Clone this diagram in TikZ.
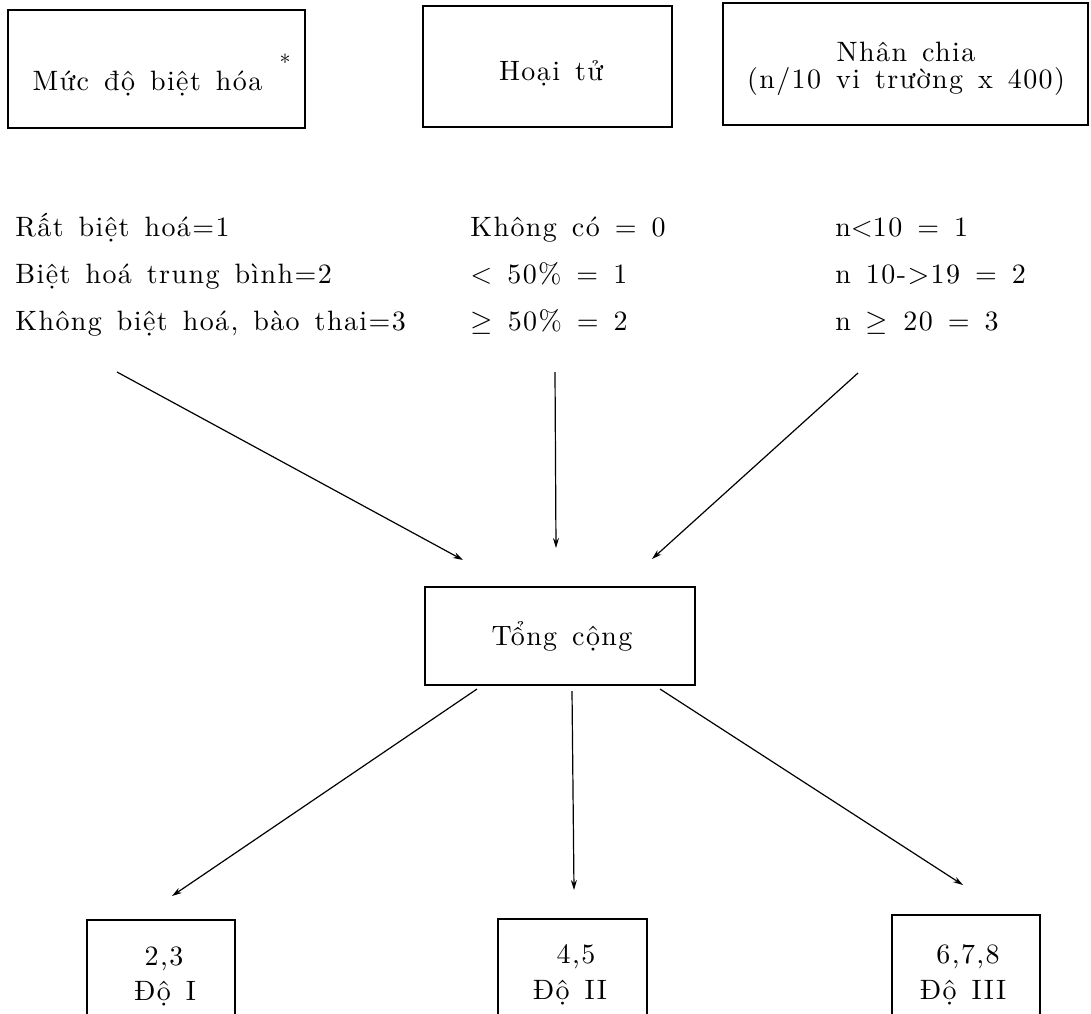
\documentclass[tikz,border=0pt]{standalone}
\usepackage{fontspec}
\setmainfont{lmroman10-regular.otf}[LetterSpace=5, WordSpace=1.4]
\usetikzlibrary{arrows.meta}
\begin{document}
\begin{tikzpicture}[x=0.5pt,y=-0.5pt,
  box/.style={draw, line width=0.9pt, inner sep=0pt},
  lbl/.style={anchor=base, inner sep=0pt},
  colt/.style={anchor=base west, inner sep=0pt},
  conn/.style={line width=0.6pt, -{Stealth[length=5pt,width=3pt]}},
  font=\fontsize{14}{17}\selectfont]
\path[use as bounding box, clip] (0,0) rectangle (1091,1013);
\fill[white] (0,0) rectangle (1091,1013);

% top boxes
\node[box, minimum width=148.5pt, minimum height=59pt] (b1) at (156.5,69) {};
\node[box, minimum width=124.5pt, minimum height=60.5pt] (b2) at (547.5,66.5) {};
\node[box, minimum width=182.5pt, minimum height=61pt] (b3) at (905.5,64) {};
\node[lbl] (t1) at (147.5,90) {Mức độ biệt hóa};
\node[inner sep=0pt, font=\fontsize{11}{12}\selectfont] (ast) at (285,62) {*};
\node[lbl] (t2) at (551,80) {Hoại tử};
\node[lbl] (t3a) at (906,61) {Nhân chia};
\node[lbl] (t3b) at (906,88) {(n/10 vi trường x 400)};

% columns
\node[colt] (c11) at (15,236) {Rất biệt hoá=1};
\node[colt] (c12) at (15,283) {Biệt hoá trung bình=2};
\node[colt] (c13) at (15,330) {Không biệt hoá, bào thai=3};
\node[colt] (c21) at (470,236) {Không có = 0};
\node[colt] (c22) at (470,283) {$<$ 50\% = 1};
\node[colt] (c23) at (470,330) {$\geq$ 50\% = 2};
\node[colt] (c31) at (835,236) {n$<$10 = 1};
\node[colt] (c32) at (835,283) {n 10->19 = 2};
\node[colt] (c33) at (835,330) {n $\geq$ 20 = 3};

% total
\node[box, minimum width=135pt, minimum height=49pt] (tong) at (560,636) {};
\node[lbl] (tt) at (562,645) {Tổng cộng};

% bottom boxes
\node[box, minimum width=74pt, minimum height=60pt] (d1) at (161,980) {};
\node[box, minimum width=74.5pt, minimum height=60pt] (d2) at (572.5,979) {};
\node[box, minimum width=74pt, minimum height=62pt] (d3) at (966,977) {};
\node[lbl] (d1a) at (164,965) {2,3};
\node[lbl] (d1b) at (165,1000) {Độ I};
\node[lbl] (d2a) at (576,963) {4,5};
\node[lbl] (d2b) at (570,999) {Độ II};
\node[lbl] (d3a) at (968,963) {6,7,8};
\node[lbl] (d3b) at (963,999) {Độ III};

% connector end points
\coordinate (s1) at (117,372);
\coordinate (e1) at (463,560);
\coordinate (s2) at (555,372);
\coordinate (e2) at (556,548);
\coordinate (s3) at (858,373);
\coordinate (e3) at (652,559);
\coordinate (s4) at (477,689);
\coordinate (e4) at (172,896);
\coordinate (s5) at (572,691);
\coordinate (e5) at (574,890);
\coordinate (s6) at (660,689);
\coordinate (e6) at (963,885);

\draw[conn] (s1) -- (e1);
\draw[conn] (s2) -- (e2);
\draw[conn] (s3) -- (e3);
\draw[conn] (s4) -- (e4);
\draw[conn] (s5) -- (e5);
\draw[conn] (s6) -- (e6);
\end{tikzpicture}
\end{document}
